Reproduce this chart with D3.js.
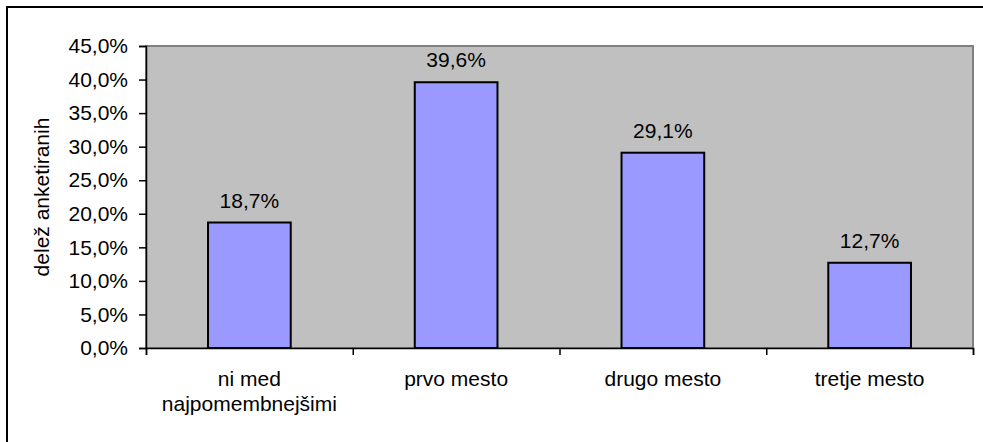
<!DOCTYPE html>
<html>
<head>
<meta charset="utf-8">
<script src="https://cdn.jsdelivr.net/npm/d3@7"></script>
<style>
html,body{margin:0;padding:0;background:#fff;}
svg{display:block;}
text{font-family:"Liberation Sans", Arial, sans-serif;fill:#000;}
</style>
</head>
<body>
<svg id="chart" width="983" height="442"></svg>
<script>
const categories = [["ni med","najpomembnejšimi"],["prvo mesto"],["drugo mesto"],["tretje mesto"]];
const values = [18.7, 39.6, 29.1, 12.7];
const yTicks = [0,5,10,15,20,25,30,35,40,45];
const yTitle = "delež anketiranih";

const m = {left:146, top:46, right:973, bottom:348};
const svg = d3.select("#chart");
const fs = 21;

// outer border
svg.append("rect").attr("x",7).attr("y",7).attr("width",1000).attr("height",500)
  .attr("fill","#fff").attr("stroke","#000").attr("stroke-width",2);

const x = d3.scaleBand().domain(d3.range(categories.length)).range([m.left,m.right]).paddingInner(0).paddingOuter(0);
const y = d3.scaleLinear().domain([0,45]).range([m.bottom,m.top]);

// plot area
svg.append("rect").attr("x",m.left).attr("y",m.top).attr("width",m.right-m.left).attr("height",m.bottom-m.top)
  .attr("fill","#C0C0C0").attr("stroke","#808080").attr("stroke-width",2);

// bars
const bw = x.bandwidth()/2.5;
svg.selectAll("rect.bar").data(values).enter().append("rect").attr("class","bar")
  .attr("x",(d,i)=>x(i)+x.bandwidth()/2-bw/2)
  .attr("y",d=>y(d)).attr("width",bw).attr("height",d=>y(0)-y(d))
  .attr("fill","#9999FF").attr("stroke","#000").attr("stroke-width",2);

// data labels
svg.selectAll("text.lbl").data(values).enter().append("text").attr("class","lbl")
  .attr("x",(d,i)=>x(i)+x.bandwidth()/2).attr("y",d=>y(d)-15)
  .attr("text-anchor","middle").attr("font-size",fs)
  .text(d=>d.toFixed(1).replace(".",",")+"%");

// y axis
const yAxis = d3.axisLeft(y).tickValues(yTicks).tickSize(7).tickPadding(11)
  .tickFormat(d=>d.toFixed(1).replace(".",",")+"%");
const gy = svg.append("g").attr("transform",`translate(${m.left},0)`).call(yAxis);
gy.select(".domain").attr("stroke","#000").attr("stroke-width",1.5);
gy.selectAll(".tick line").attr("stroke","#000").attr("stroke-width",1.5);
gy.selectAll(".tick text").attr("font-size",fs).attr("font-family","Liberation Sans, Arial, sans-serif").attr("fill","#000");

// x axis with boundary ticks
const xb = d3.scaleLinear().domain([0,categories.length]).range([m.left,m.right]);
const xAxis = d3.axisBottom(xb).tickValues(d3.range(categories.length+1)).tickSize(7).tickFormat("");
const gx = svg.append("g").attr("transform",`translate(0,${m.bottom})`).call(xAxis);
gx.select(".domain").attr("stroke","#000").attr("stroke-width",1.5);
gx.selectAll(".tick line").attr("stroke","#000").attr("stroke-width",1.5);

// category labels
categories.forEach((lines,i)=>{
  const t = svg.append("text").attr("x",x(i)+x.bandwidth()/2).attr("y",386)
    .attr("text-anchor","middle").attr("font-size",fs);
  lines.forEach((l,j)=>t.append("tspan").attr("x",x(i)+x.bandwidth()/2).attr("dy",j===0?0:25).text(l));
});

// y title
svg.append("text").attr("transform",`translate(49,${(m.top+m.bottom)/2}) rotate(-90)`)
  .attr("text-anchor","middle").attr("font-size",fs).text(yTitle);
</script>
</body>
</html>
